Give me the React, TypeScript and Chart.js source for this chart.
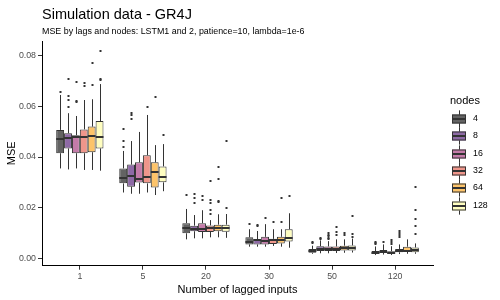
import { useEffect, useRef } from 'react';
import { Chart, registerables } from 'chart.js';

Chart.register(...registerables);

const FONT = "'Liberation Sans', Arial, sans-serif";

const categories = ['1', '5', '20', '30', '50', '120'];
const nodes = ['4', '8', '16', '32', '64', '128'];
const fills = ['#636363', '#8E6AA6', '#C47BA9', '#EF968B', '#FDC46A', '#FFFEC0'];

// rows = nodes, columns = categories
const whiskerLow = [
  [0.0355, 0.026, 0.0075, 0.0046, 0.0018, 0.0013],
  [0.0351, 0.0255, 0.0079, 0.0046, 0.002, 0.0015],
  [0.0355, 0.0255, 0.0079, 0.0046, 0.002, 0.0013],
  [0.0349, 0.026, 0.0083, 0.0049, 0.0021, 0.0017],
  [0.0349, 0.025, 0.0083, 0.0046, 0.0022, 0.0018],
  [0.0346, 0.0265, 0.0081, 0.0042, 0.0023, 0.0018],
];
const q1 = [
  [0.0415, 0.0296, 0.0099, 0.0055, 0.0022, 0.0017],
  [0.0434, 0.0283, 0.0107, 0.0055, 0.0029, 0.0021],
  [0.0415, 0.0299, 0.0104, 0.0055, 0.0029, 0.0017],
  [0.0415, 0.0296, 0.0104, 0.0057, 0.0029, 0.0024],
  [0.0419, 0.028, 0.0107, 0.0059, 0.0031, 0.0026],
  [0.0434, 0.03, 0.0105, 0.0067, 0.0031, 0.0024],
];
const median = [
  [0.0472, 0.0318, 0.012, 0.0063, 0.003, 0.0022],
  [0.0476, 0.0326, 0.0117, 0.0071, 0.0038, 0.0025],
  [0.0478, 0.0314, 0.0115, 0.007, 0.0037, 0.0021],
  [0.048, 0.0322, 0.0121, 0.0072, 0.0037, 0.003],
  [0.0484, 0.034, 0.0121, 0.0074, 0.004, 0.0031],
  [0.048, 0.0322, 0.0118, 0.0081, 0.004, 0.0034],
];
const q3 = [
  [0.0507, 0.0355, 0.0139, 0.0083, 0.0037, 0.0029],
  [0.0494, 0.037, 0.0129, 0.0075, 0.0048, 0.0033],
  [0.0486, 0.0379, 0.0139, 0.0085, 0.0047, 0.0028],
  [0.0509, 0.0407, 0.013, 0.0077, 0.0047, 0.0037],
  [0.052, 0.0379, 0.0133, 0.0085, 0.005, 0.0046],
  [0.0542, 0.0363, 0.0133, 0.0115, 0.0051, 0.0043],
];
const whiskerHigh = [
  [0.0645, 0.0424, 0.0195, 0.0115, 0.005, 0.0047],
  [0.0573, 0.0463, 0.0171, 0.0108, 0.0071, 0.0055],
  [0.0562, 0.0499, 0.019, 0.0135, 0.0068, 0.0048],
  [0.0625, 0.0566, 0.0151, 0.0115, 0.0075, 0.0055],
  [0.0628, 0.0447, 0.0174, 0.0115, 0.0075, 0.0075],
  [0.0688, 0.0451, 0.0175, 0.0178, 0.0078, 0.0059],
];
const outliers = [
  [[0.0658], [0.0511, 0.0463, 0.044], [0.0251], [0.0137], [0.0062, 0.0066], [0.0055, 0.006, 0.0066]],
  [[0.0708, 0.0642, 0.0625, 0.0599], [0.0573, 0.0567, 0.055], [0.0253, 0.0239, 0.022], [0.0133, 0.0128], [0.0077, 0.0082], [0.0063]],
  [[0.0697, 0.0621, 0.0616], [], [0.0247, 0.0231], [0.016], [0.0075, 0.0082, 0.0088, 0.0094, 0.0099], [0.0056, 0.0063, 0.0072]],
  [[0.0694, 0.0682], [0.0599], [0.0306, 0.0231, 0.022, 0.0191, 0.0176], [0.0143], [0.0092, 0.0104, 0.0125], [0.0085, 0.0093, 0.01, 0.0108]],
  [[0.0773, 0.0684], [0.0636], [0.0362, 0.0314, 0.0227, 0.0222], [0.0143, 0.0238], [0.0092, 0.0099], []],
  [[0.082, 0.0708, 0.0703], [0.0488], [0.02, 0.0463], [0.0247], [0.0083, 0.0096, 0.0168], [0.0095, 0.0129, 0.0154, 0.0192, 0.028]],
];
const yTicks = [0, 0.02, 0.04, 0.06, 0.08];

const titleText = 'Simulation data - GR4J';
const subtitleText = 'MSE by lags and nodes: LSTM1 and 2, patience=10, lambda=1e-6';
const xTitle = 'Number of lagged inputs';
const yTitle = 'MSE';
const legendTitle = 'nodes';

const LINE = '#333333';

const boxPlugin = {
  id: 'boxExtras',
  afterDatasetsDraw(chart: any) {
    const ctx = chart.ctx;
    const ys = chart.scales.y;
    ctx.save();
    chart.data.datasets.forEach((_: any, di: number) => {
      const meta = chart.getDatasetMeta(di);
      meta.data.forEach((bar: any, ci: number) => {
        const { x, width } = bar.getProps(['x', 'width'], true);
        const left = x - width / 2;
        const sx = Math.round(x) + 0.5;
        ctx.strokeStyle = LINE;
        ctx.lineWidth = 1;
        ctx.beginPath();
        ctx.moveTo(sx, ys.getPixelForValue(q3[di][ci]));
        ctx.lineTo(sx, ys.getPixelForValue(whiskerHigh[di][ci]));
        ctx.moveTo(sx, ys.getPixelForValue(q1[di][ci]));
        ctx.lineTo(sx, ys.getPixelForValue(whiskerLow[di][ci]));
        ctx.stroke();
        ctx.lineWidth = 2;
        const ym = Math.round(ys.getPixelForValue(median[di][ci]));
        ctx.beginPath();
        ctx.moveTo(left, ym);
        ctx.lineTo(left + width, ym);
        ctx.stroke();
        ctx.fillStyle = LINE;
        outliers[di][ci].forEach((v: number) => {
          const py = Math.round(ys.getPixelForValue(v));
          ctx.fillRect(Math.round(x) - 0.5, py - 1, 2, 2);
        });
      });
    });
    ctx.restore();
  },
  afterDraw(chart: any) {
    const ctx = chart.ctx;
    const area = chart.chartArea;
    ctx.save();
    ctx.fillStyle = '#000000';
    ctx.textAlign = 'left';
    ctx.textBaseline = 'alphabetic';
    ctx.font = `14.5px ${FONT}`;
    ctx.fillText(titleText, area.left, 18.5);
    ctx.font = `8.9px ${FONT}`;
    ctx.fillText(subtitleText, area.left, 33.5);
    ctx.font = `11px ${FONT}`;
    ctx.textAlign = 'center';
    ctx.fillText(xTitle, (area.left + area.right) / 2, 293);
    ctx.save();
    ctx.translate(12, (area.top + area.bottom) / 2);
    ctx.rotate(-Math.PI / 2);
    ctx.textBaseline = 'middle';
    ctx.fillText(yTitle, 0, 0);
    ctx.restore();
    // legend
    ctx.textAlign = 'left';
    ctx.textBaseline = 'middle';
    ctx.font = `11px ${FONT}`;
    ctx.fillText(legendTitle, 450, 100.5);
    const keyX = 452, keyW = 14, keyH = 17.3, y0 = 119;
    ctx.font = `8.8px ${FONT}`;
    nodes.forEach((n, i) => {
      const cy = Math.round(y0 + keyH * i);
      const cx = keyX + keyW / 2 + 0.5;
      ctx.strokeStyle = LINE;
      ctx.lineWidth = 1;
      ctx.beginPath();
      ctx.moveTo(cx, cy - keyH / 2);
      ctx.lineTo(cx, cy + keyH / 2);
      ctx.stroke();
      ctx.fillStyle = fills[i];
      ctx.fillRect(keyX, cy - 4.5, keyW, 9);
      ctx.strokeRect(keyX + 0.5, cy - 4, keyW - 1, 8);
      ctx.lineWidth = 2;
      ctx.beginPath();
      ctx.moveTo(keyX, cy);
      ctx.lineTo(keyX + keyW, cy);
      ctx.stroke();
      ctx.fillStyle = '#000000';
      ctx.fillText(n, 473, cy);
    });
    ctx.restore();
  },
};

export default function App() {
  const ref = useRef<HTMLCanvasElement | null>(null);
  useEffect(() => {
    if (!ref.current) return;
    const datasets = nodes.map((n, di) => ({
      label: n,
      data: categories.map((_, ci) => ({ x: ci + 1, y: [q1[di][ci], q3[di][ci]] })),
      backgroundColor: fills[di],
      borderColor: LINE,
      borderWidth: 1,
      borderSkipped: false as const,
      categoryPercentage: 0.75,
      barPercentage: 1,
    }));
    const tickFont = { family: FONT, size: 8.8 };
    const chart = new Chart(ref.current, {
      type: 'bar',
      data: { datasets: datasets as any },
      options: {
        animation: false,
        responsive: false,
        maintainAspectRatio: false,
        layout: { padding: { left: 0, right: 67, top: 41, bottom: 0 } },
        plugins: { legend: { display: false }, tooltip: { enabled: false } },
        scales: {
          x: {
            type: 'linear',
            min: 0.4,
            max: 6.6,
            offset: false,
            afterBuildTicks: (s: any) => {
              s.ticks = categories.map((_, i) => ({ value: i + 1 }));
            },
            afterFit: (s: any) => {
              s.height = 34.3;
            },
            ticks: {
              callback: (v: any) => categories[Math.round(Number(v)) - 1],
              font: tickFont,
              color: '#4D4D4D',
              padding: 2,
              autoSkip: false,
              maxRotation: 0,
            },
            grid: { display: true, offset: false, drawOnChartArea: false, drawTicks: true, tickLength: 4, color: LINE },
            border: { display: true, color: '#000000', width: 1 },
          },
          y: {
            type: 'linear',
            min: -0.0029,
            max: 0.0858,
            beginAtZero: false,
            afterBuildTicks: (s: any) => {
              s.ticks = yTicks.map((v) => ({ value: v }));
            },
            afterFit: (s: any) => {
              s.width = 42;
            },
            ticks: {
              callback: (v: any) => Number(v).toFixed(2),
              font: tickFont,
              color: '#4D4D4D',
              padding: 2,
            },
            grid: { display: true, drawOnChartArea: false, drawTicks: true, tickLength: 4, color: LINE },
            border: { display: true, color: '#000000', width: 1 },
          },
        },
      } as any,
      plugins: [boxPlugin],
    });
    return () => chart.destroy();
  }, []);
  return (
    <div style={{ position: 'fixed', left: 0, top: 0, width: 500, height: 300, background: '#ffffff' }}>
      <canvas ref={ref} width={500} height={300} style={{ display: 'block', width: 500, height: 300 }} />
    </div>
  );
}
